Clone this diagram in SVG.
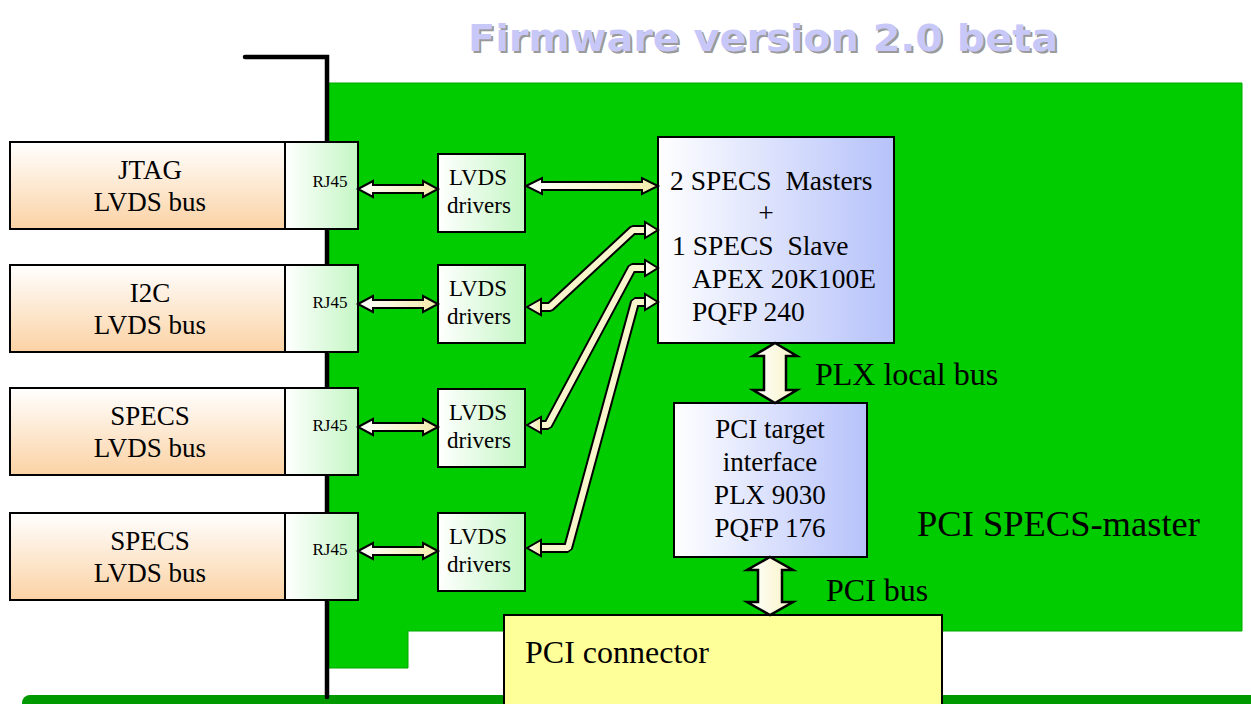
<svg xmlns="http://www.w3.org/2000/svg" width="1251" height="704" viewBox="0 0 1251 704">
  <defs>
    <linearGradient id="gPeach" x1="0" y1="0" x2="0" y2="1">
      <stop offset="0" stop-color="#ffffff"/>
      <stop offset="1" stop-color="#fbd2a4"/>
    </linearGradient>
    <linearGradient id="gMint" x1="0" y1="0" x2="1" y2="0">
      <stop offset="0" stop-color="#ffffff"/>
      <stop offset="1" stop-color="#c4f6c4"/>
    </linearGradient>
    <linearGradient id="gBlue" x1="0" y1="0" x2="1" y2="0">
      <stop offset="0" stop-color="#ffffff"/>
      <stop offset="1" stop-color="#b6c2fa"/>
    </linearGradient>
    <linearGradient id="gArrow" x1="0" y1="0" x2="1" y2="0">
      <stop offset="0" stop-color="#ffffff"/>
      <stop offset="1" stop-color="#f2ecaa"/>
    </linearGradient>
    <linearGradient id="gBig" x1="0" y1="0" x2="1" y2="0">
      <stop offset="0" stop-color="#ffffff"/>
      <stop offset="1" stop-color="#f8f3c4"/>
    </linearGradient>
  </defs>
  <style>
    .box { stroke: #000; stroke-width: 2; }
    .label { fill: url(#gPeach); }
    .rj { fill: url(#gMint); }
    .drv { fill: url(#gMint); }
    .chip { fill: url(#gBlue); }
    .arr { fill: url(#gArrow); stroke: #000; stroke-width: 2; stroke-linejoin: miter; }
    .big { fill: url(#gBig); stroke: #000; stroke-width: 2.5; stroke-linejoin: miter; }
    .shaftOut { fill: none; stroke: #000; stroke-width: 10; stroke-linejoin: bevel; }
    .shaftIn { fill: none; stroke: #f8f4cc; stroke-width: 6; stroke-linejoin: bevel; }
    text { font-family: "Liberation Serif", "Times New Roman", serif; fill: #000; }
    .t27 { font-size: 27px; }
    .t23 { font-size: 23px; }
    .t17 { font-size: 17px; }
    .tfp { font-size: 27.5px; }
    .t32 { font-size: 32px; }
    .mid { text-anchor: middle; }
    .title { font-family: "DejaVu Sans", "Liberation Sans", sans-serif; font-weight: bold; font-size: 38px; }
  </style>

  <!-- title -->
  <g id="title">
    <text class="title" x="470" y="53" textLength="590" lengthAdjust="spacingAndGlyphs" style="fill:#9a9a9a">Firmware version 2.0 beta</text>
    <text class="title" x="468" y="51" textLength="590" lengthAdjust="spacingAndGlyphs" style="fill:#c8c8f8">Firmware version 2.0 beta</text>
  </g>

  <!-- card body and mounting bracket -->
  <g id="board">
    <path d="M327,83 H1242 V631 H408 V668 H327 Z" fill="#00cc00" stroke="#00a800" stroke-width="1"/>
    <rect x="22" y="695" width="1260" height="30" rx="8" fill="#009900"/>
    <path d="M245,57 H327 V697" fill="none" stroke="#000" stroke-width="4.5" stroke-linecap="round" stroke-linejoin="miter"/>
  </g>

  <!-- external bus labels -->
  <g id="jtag">
    <rect class="box label" x="10" y="142" width="275" height="87"/>
    <text class="t27 mid" x="150" y="179">JTAG</text>
    <text class="t27 mid" x="150" y="211">LVDS bus</text>
  </g>
  <g id="i2c">
    <rect class="box label" x="10" y="265" width="275" height="87"/>
    <text class="t27 mid" x="150" y="302">I2C</text>
    <text class="t27 mid" x="150" y="334">LVDS bus</text>
  </g>
  <g id="specs1">
    <rect class="box label" x="10" y="388" width="275" height="87"/>
    <text class="t27 mid" x="150" y="425">SPECS</text>
    <text class="t27 mid" x="150" y="457">LVDS bus</text>
  </g>
  <g id="specs2">
    <rect class="box label" x="10" y="513" width="275" height="87"/>
    <text class="t27 mid" x="150" y="550">SPECS</text>
    <text class="t27 mid" x="150" y="582">LVDS bus</text>
  </g>

  <!-- RJ45 jacks -->
  <g id="rj45-1">
    <rect class="box rj" x="285" y="142" width="73" height="87"/>
    <text class="t17 mid" x="330" y="187">RJ45</text>
  </g>
  <g id="rj45-2">
    <rect class="box rj" x="285" y="265" width="73" height="87"/>
    <text class="t17 mid" x="330" y="308">RJ45</text>
  </g>
  <g id="rj45-3">
    <rect class="box rj" x="285" y="388" width="73" height="87"/>
    <text class="t17 mid" x="330" y="431">RJ45</text>
  </g>
  <g id="rj45-4">
    <rect class="box rj" x="285" y="513" width="73" height="87"/>
    <text class="t17 mid" x="330" y="555">RJ45</text>
  </g>

  <!-- LVDS driver blocks -->
  <g id="drv1">
    <rect class="box drv" x="438" y="154" width="87" height="78"/>
    <text class="t23 mid" x="478" y="185">LVDS</text>
    <text class="t23 mid" x="479" y="213">drivers</text>
  </g>
  <g id="drv2">
    <rect class="box drv" x="438" y="265" width="87" height="78"/>
    <text class="t23 mid" x="478" y="296">LVDS</text>
    <text class="t23 mid" x="479" y="324">drivers</text>
  </g>
  <g id="drv3">
    <rect class="box drv" x="438" y="389" width="87" height="78"/>
    <text class="t23 mid" x="478" y="420">LVDS</text>
    <text class="t23 mid" x="479" y="448">drivers</text>
  </g>
  <g id="drv4">
    <rect class="box drv" x="438" y="513" width="87" height="78"/>
    <text class="t23 mid" x="478" y="544">LVDS</text>
    <text class="t23 mid" x="479" y="572">drivers</text>
  </g>

  <!-- FPGA -->
  <g id="fpga">
    <rect class="box chip" x="658" y="137" width="236" height="206"/>
    <text class="tfp" x="670" y="190" xml:space="preserve">2 SPECS  Masters</text>
    <text class="tfp mid" x="766" y="222">+</text>
    <text class="tfp" x="672" y="255" xml:space="preserve">1 SPECS  Slave</text>
    <text class="tfp" x="692" y="288">APEX 20K100E</text>
    <text class="tfp" x="692" y="321">PQFP 240</text>
  </g>

  <!-- PCI bridge -->
  <g id="plx">
    <rect class="box chip" x="674" y="403" width="193" height="154"/>
    <text class="t27 mid" x="770" y="438">PCI target</text>
    <text class="t27 mid" x="770" y="471">interface</text>
    <text class="t27 mid" x="770" y="504">PLX 9030</text>
    <text class="t27 mid" x="770" y="537">PQFP 176</text>
  </g>

  <!-- edge connector -->
  <g id="pci-connector">
    <rect x="504" y="615" width="438" height="100" fill="#ffff99" stroke="#000" stroke-width="2"/>
    <text class="t32" x="525" y="663">PCI connector</text>
  </g>

  <!-- connectors -->
  <g id="connectors">
    <!-- RJ45 to LVDS drivers -->
    <polygon class="arr" points="358,189 373,181 373,185 423,185 423,181 438,189 423,197 423,193 373,193 373,197"/>
    <polygon class="arr" points="358,304 373,296 373,300 423,300 423,296 438,304 423,312 423,308 373,308 373,312"/>
    <polygon class="arr" points="358,427 373,419 373,423 423,423 423,419 438,427 423,435 423,431 373,431 373,435"/>
    <polygon class="arr" points="358,551 373,543 373,547 423,547 423,543 438,551 423,559 423,555 373,555 373,559"/>

    <!-- LVDS driver 1 to FPGA -->
    <polygon class="arr" points="526,186 542,178 542,182 642,182 642,178 658,186 642,194 642,190 542,190 542,194"/>

    <!-- bent links from drivers 2-4 -->
    <path class="shaftOut" d="M540,307 H550 L633,230 H646"/>
    <path class="shaftOut" d="M540,425 H548 L632,268 H646"/>
    <path class="shaftOut" d="M540,548 H568 L635,302 H646"/>

    <polygon class="arr" points="527,307 541,299 541,315"/>
    <polygon class="arr" points="527,425 541,417 541,433"/>
    <polygon class="arr" points="527,548 541,540 541,556"/>
    <polygon class="arr" points="658,230 645,222 645,238"/>
    <polygon class="arr" points="658,268 645,260 645,276"/>
    <polygon class="arr" points="658,302 645,294 645,310"/>

    <path class="shaftIn" d="M542,307 H550 L633,230 H644"/>
    <path class="shaftIn" d="M542,425 H548 L632,268 H644"/>
    <path class="shaftIn" d="M542,548 H568 L635,302 H644"/>

    <!-- PLX local bus -->
    <polygon class="big" points="775,343 797,356 786,356 786,390 797,390 775,403 753,390 764,390 764,356 753,356"/>
    <!-- PCI bus -->
    <polygon class="big" points="770,557 793,570 782,570 782,602 793,602 770,615 747,602 758,602 758,570 747,570"/>
  </g>

  <!-- bus names and card name -->
  <g id="labels">
    <text class="t32" x="815" y="385">PLX local bus</text>
    <text class="t32" x="826" y="601">PCI bus</text>
    <text x="917" y="536" style="font-size:36.5px">PCI SPECS-master</text>
  </g>
</svg>
